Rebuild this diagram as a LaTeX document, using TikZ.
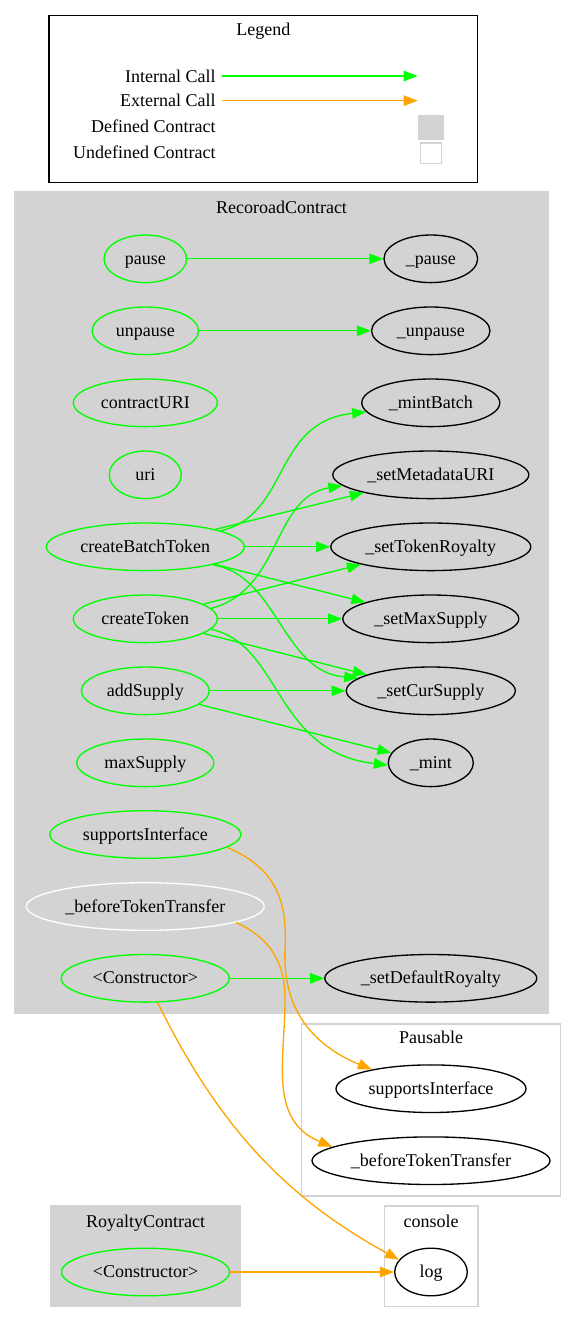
\documentclass[tikz,border=0pt]{standalone}
\usepackage{fontspec}
\setmainfont{Liberation Serif}
\usetikzlibrary{shapes.geometric,arrows.meta}
\definecolor{gvgreen}{HTML}{00FF00}
\definecolor{gvorange}{HTML}{FFA500}
\definecolor{gvgray}{HTML}{D3D3D3}
\begin{document}
\begin{tikzpicture}[x=1pt,y=-1pt,
  font=\fontsize{18}{22}\selectfont,
  txt/.style={text height=12.5pt,text depth=1.5pt},
  fn/.style={txt,ellipse,draw=gvgreen,line width=1.33pt,inner sep=0pt,minimum height=47.6pt},
  tn/.style={txt,ellipse,draw=black,line width=1.33pt,inner sep=0pt,minimum height=47.6pt},
  wn/.style={txt,ellipse,draw=white,line width=1.33pt,inner sep=0pt,minimum height=47.6pt},
  icall/.style={draw=gvgreen,line width=1.33pt,-{Triangle[length=14pt,width=10.5pt]}},
  ecall/.style={draw=gvorange,line width=1.33pt,-{Triangle[length=14pt,width=10.5pt]}},
  defbox/.style={fill=gvgray,draw=gvgray,line width=1.33pt},
  undefbox/.style={fill=white,draw=gvgray,line width=1.33pt},
  ttl/.style={txt,inner sep=0pt,anchor=center},
  lgl/.style={txt,inner sep=0pt,anchor=east}
]
\useasboundingbox[fill=white] (0,0) rectangle (576,1323);

% ---------------- Legend ----------------
\draw[line width=1.33pt] (49,15.7) rectangle (477.7,182.7);
\node[ttl] (legtitle) at (263.3,30.2) {Legend};
\node[lgl] (lint) at (215.7,76.5) {Internal Call};
\node[lgl] (lext) at (215.7,101.2) {External Call};
\node[lgl] (ldef) at (215.7,127.2) {Defined Contract};
\node[lgl] (lund) at (215.7,153.2) {Undefined Contract};
\coordinate (lintA) at (221.7,76);
\coordinate (lintB) at (417.7,76);
\coordinate (lextA) at (221.7,100.7);
\coordinate (lextB) at (417.7,100.7);
\draw[icall] (lintA) -- (lintB);
\draw[ecall] (lextA) -- (lextB);
\fill[gvgray] (417.7,115) rectangle (444,140);
\draw[gvgray,line width=1.33pt,fill=white] (420.3,143) rectangle (441.3,163.7);

% ---------------- Clusters ----------------
\draw[defbox] (15,192) rectangle (548,1013.3);
\node[ttl] (rctitle) at (281.5,208.3) {RecoroadContract};
\draw[undefbox] (301.8,1024) rectangle (560.4,1196);
\node[ttl] (ptitle) at (431,1038.3) {Pausable};
\draw[defbox] (50.5,1206) rectangle (240.4,1306.7);
\node[ttl] (roytitle) at (145.5,1221.7) {RoyaltyContract};
\draw[undefbox] (384.2,1206) rectangle (477.9,1306.7);
\node[ttl] (ctitle) at (431,1221.7) {console};

% ---------------- RecoroadContract nodes ----------------
\node[fn,minimum width=82.6pt] (pause) at (145.3,258.8) {pause};
\node[fn,minimum width=106.4pt] (unpause) at (145.3,330.8) {unpause};
\node[fn,minimum width=144pt] (contracturi) at (145.3,402.8) {contractURI};
\node[fn,minimum width=72pt] (uri) at (145.3,474.8) {uri};
\node[fn,minimum width=198pt] (cbt) at (145.3,546.8) {createBatchToken};
\node[fn,minimum width=144pt] (ct) at (145.3,618.8) {createToken};
\node[fn,minimum width=128pt] (addsupply) at (145.3,690.8) {addSupply};
\node[fn,minimum width=137pt] (maxsupply) at (145.3,762.8) {maxSupply};
\node[fn,minimum width=191pt] (si) at (145.3,834.5) {supportsInterface};
\node[wn,minimum width=238pt] (btt) at (145.3,906.5) {\_beforeTokenTransfer};
\node[fn,minimum width=168pt] (ctor) at (145.3,978.3) {<Constructor>};

\node[tn,minimum width=93.6pt] (ipause) at (430.8,258.8) {\_pause};
\node[tn,minimum width=118.4pt] (iunpause) at (430.8,330.8) {\_unpause};
\node[tn,minimum width=138pt] (mintbatch) at (430.8,402.8) {\_mintBatch};
\node[tn,minimum width=196pt] (smu) at (430.8,474.8) {\_setMetadataURI};
\node[tn,minimum width=200pt] (str) at (430.8,546.8) {\_setTokenRoyalty};
\node[tn,minimum width=176pt] (sms) at (430.8,618.8) {\_setMaxSupply};
\node[tn,minimum width=169pt] (scs) at (430.8,690.8) {\_setCurSupply};
\node[tn,minimum width=85pt] (mint) at (430.8,762.8) {\_mint};
\node[tn,minimum width=212pt] (sdr) at (430.8,978.3) {\_setDefaultRoyalty};

% ---------------- Pausable / Royalty / console nodes ----------------
\node[tn,minimum width=190pt] (psi) at (431,1088.7) {supportsInterface};
\node[tn,minimum width=238pt] (pbtt) at (431,1160.7) {\_beforeTokenTransfer};
\node[fn,minimum width=168pt] (rctor) at (145.5,1272) {<Constructor>};
\node[tn,minimum width=72.6pt] (log) at (431,1272) {log};

% ---------------- Internal calls ----------------
\draw[icall] (pause) -- (ipause);
\draw[icall] (unpause) -- (iunpause);
\draw[icall] (ctor) -- (sdr);
\draw[icall] (cbt.12) .. controls (290,515) and (272,422) .. (mintbatch.188);
\draw[icall] (cbt.14) -- (smu.195);
\draw[icall] (cbt) -- (str);
\draw[icall] (cbt) -- (sms);
\draw[icall] (cbt.345) .. controls (278,575) and (282,672) .. (scs.170);
\draw[icall] (ct.9) .. controls (282,590) and (272,497) .. (smu.187);
\draw[icall] (ct) -- (str);
\draw[icall] (ct) -- (sms);
\draw[icall] (ct) -- (scs);
\draw[icall] (ct.351) .. controls (282,645) and (274,752) .. (mint.183);
\draw[icall] (addsupply) -- (scs);
\draw[icall] (addsupply) -- (mint);

% ---------------- External calls ----------------
\draw[ecall] (si.351) .. controls (282,870) and (287,910) .. (285,950)
  .. controls (283,995) and (300,1040) .. (psi.162);
\draw[ecall] (btt.350) .. controls (275,940) and (285,968) .. (285,1000)
  .. controls (285,1060) and (268,1120) .. (pbtt.172);
\draw[ecall] (ctor.297) .. controls (220,1130) and (290,1200) .. (log.159);
\draw[ecall] (rctor) -- (log);
\end{tikzpicture}
\end{document}
